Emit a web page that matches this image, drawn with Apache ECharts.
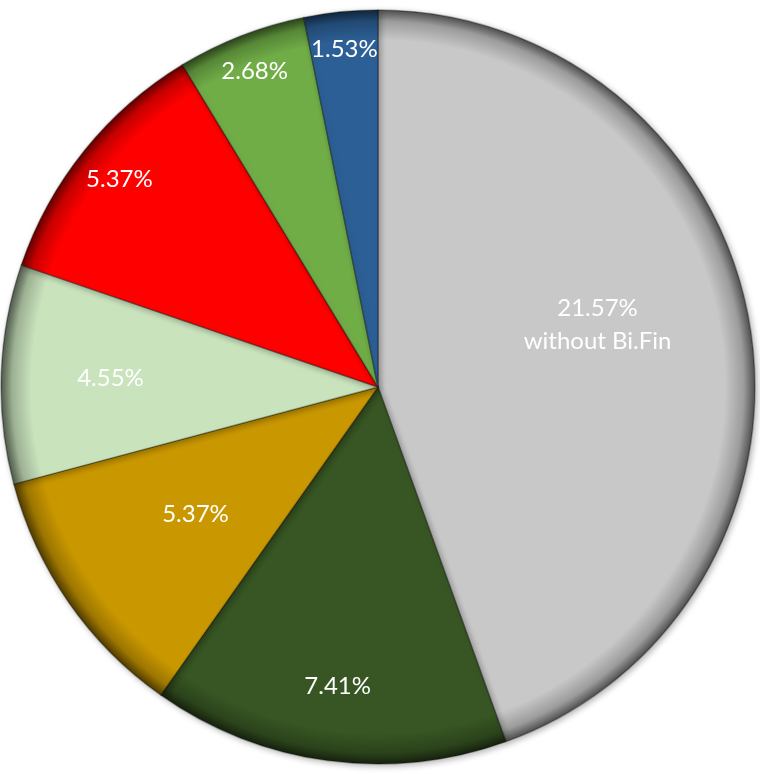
<!DOCTYPE html>
<html>
<head>
<meta charset="utf-8">
<style>
  html, body { margin: 0; padding: 0; background: #ffffff; }
  #chart { width: 760px; height: 774px; }
</style>
<script src="https://cdn.jsdelivr.net/npm/echarts@6/dist/echarts.min.js"></script>
</head>
<body>
<div id="chart"></div>
<script>
// Slice values (percent), clockwise from 12 o'clock
const values = [21.57, 7.41, 5.37, 4.55, 5.37, 2.68, 1.53];
const labels = ['21.57%\nwithout Bi.Fin', '7.41%', '5.37%', '4.55%', '5.37%', '2.68%', '1.53%'];
const colors = ['#c8c8c8', '#375623', '#c99700', '#c9e3bd', '#ff0000', '#70ad47', '#2c5f95'];

// Label placement: fraction of the radius along each slice's mid-angle, plus nudges
const labelRadius = [0.61, 0.80, 0.59, 0.71, 0.88, 0.90, 0.90];
const labelNudge = [[-7, -23], [0, 0], [0, 0], [0, 0], [0, 0], [0, 0], [0, 0]];

const CX = 378, CY = 387, R = 377;

function shade(hex, f) {
  const n = parseInt(hex.slice(1), 16);
  const r = Math.round(((n >> 16) & 255) * f);
  const g = Math.round(((n >> 8) & 255) * f);
  const b = Math.round((n & 255) * f);
  return 'rgb(' + r + ',' + g + ',' + b + ')';
}

// Darkened rim so each slice reads as a bevelled wedge
function rimGradient(hex) {
  return {
    type: 'radial', x: CX, y: CY, r: R, global: true,
    colorStops: [
      { offset: 0, color: hex },
      { offset: 0.92, color: hex },
      { offset: 0.97, color: shade(hex, 0.78) },
      { offset: 1, color: shade(hex, 0.4) }
    ]
  };
}

const chart = echarts.init(document.getElementById('chart'), null, { renderer: 'canvas' });

chart.setOption({
  animation: false,
  backgroundColor: '#ffffff',
  series: [{
    type: 'pie',
    center: [CX, CY],
    radius: [0, R],
    startAngle: 90,
    clockwise: true,
    avoidLabelOverlap: false,
    labelLine: { show: false },
    label: {
      show: true,
      position: 'inside',
      color: '#ffffff',
      fontFamily: 'Lato, "Open Sans", sans-serif',
      fontSize: 24,
      lineHeight: 33,
      formatter: p => labels[p.dataIndex]
    },
    labelLayout: function (p) {
      const lr = p.labelRect;
      const lx = lr.x + lr.width / 2;
      const ly = lr.y + lr.height / 2;
      const dx = lx - CX, dy = ly - CY;
      const d = Math.sqrt(dx * dx + dy * dy) || 1;
      const k = labelRadius[p.dataIndex] * R / d;
      return {
        x: CX + dx * k + labelNudge[p.dataIndex][0],
        y: CY + dy * k + labelNudge[p.dataIndex][1]
      };
    },
    itemStyle: {
      borderColor: 'rgba(0,0,0,0.3)',
      borderWidth: 1.5,
      shadowBlur: 6,
      shadowOffsetX: 2,
      shadowOffsetY: 2,
      shadowColor: 'rgba(0,0,0,0.3)'
    },
    emphasis: { disabled: true },
    data: values.map((v, i) => ({
      value: v,
      itemStyle: { color: rimGradient(colors[i]) }
    }))
  }]
});
</script>
</body>
</html>
